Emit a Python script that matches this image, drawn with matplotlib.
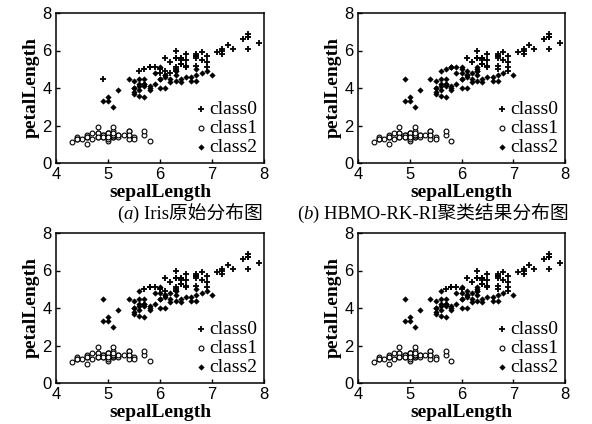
import matplotlib
matplotlib.use('Agg')
import matplotlib.pyplot as plt

# iris: sepal length / petal length, rows 0-49 setosa, 50-99 versicolor, 100-149 virginica
sepal_length = [
    5.1, 4.9, 4.7, 4.6, 5.0, 5.4, 4.6, 5.0, 4.4, 4.9, 5.4, 4.8, 4.8, 4.3, 5.8, 5.7, 5.4, 5.1, 5.7, 5.1,
    5.4, 5.1, 4.6, 5.1, 4.8, 5.0, 5.0, 5.2, 5.2, 4.7, 4.8, 5.4, 5.2, 5.5, 4.9, 5.0, 5.5, 4.9, 4.4, 5.1,
    5.0, 4.5, 4.4, 5.0, 5.1, 4.8, 5.1, 4.6, 5.3, 5.0,
    7.0, 6.4, 6.9, 5.5, 6.5, 5.7, 6.3, 4.9, 6.6, 5.2, 5.0, 5.9, 6.0, 6.1, 5.6, 6.7, 5.6, 5.8, 6.2, 5.6,
    5.9, 6.1, 6.3, 6.1, 6.4, 6.6, 6.8, 6.7, 6.0, 5.7, 5.5, 5.5, 5.8, 6.0, 5.4, 6.0, 6.7, 6.3, 5.6, 5.5,
    5.5, 6.1, 5.8, 5.0, 5.6, 5.7, 5.7, 6.2, 5.1, 5.7,
    6.3, 5.8, 7.1, 6.3, 6.5, 7.6, 4.9, 7.3, 6.7, 7.2, 6.5, 6.4, 6.8, 5.7, 5.8, 6.4, 6.5, 7.7, 7.7, 6.0,
    6.9, 5.6, 7.7, 6.3, 6.7, 7.2, 6.2, 6.1, 6.4, 7.2, 7.4, 7.9, 6.4, 6.3, 6.1, 7.7, 6.3, 6.4, 6.0, 6.9,
    6.7, 6.9, 5.8, 6.8, 6.7, 6.7, 6.3, 6.5, 6.2, 5.9,
]
petal_length = [
    1.4, 1.4, 1.3, 1.5, 1.4, 1.7, 1.4, 1.5, 1.4, 1.5, 1.5, 1.6, 1.4, 1.1, 1.2, 1.5, 1.3, 1.4, 1.7, 1.5,
    1.7, 1.5, 1.0, 1.7, 1.9, 1.6, 1.6, 1.5, 1.4, 1.6, 1.6, 1.5, 1.5, 1.4, 1.5, 1.2, 1.3, 1.4, 1.3, 1.5,
    1.3, 1.3, 1.3, 1.6, 1.9, 1.4, 1.6, 1.4, 1.5, 1.4,
    4.7, 4.5, 4.9, 4.0, 4.6, 4.5, 4.7, 3.3, 4.6, 3.9, 3.5, 4.2, 4.0, 4.7, 3.6, 4.4, 4.5, 4.1, 4.5, 3.9,
    4.8, 4.0, 4.9, 4.7, 4.3, 4.4, 4.8, 5.0, 4.5, 3.5, 3.8, 3.7, 3.9, 5.1, 4.5, 4.5, 4.7, 4.4, 4.1, 4.0,
    4.4, 4.6, 4.0, 3.3, 4.2, 4.2, 4.2, 4.3, 3.0, 4.1,
    6.0, 5.1, 5.9, 5.6, 5.8, 6.6, 4.5, 6.3, 5.8, 6.1, 5.1, 5.3, 5.5, 5.0, 5.1, 5.3, 5.5, 6.7, 6.9, 5.0,
    5.7, 4.9, 6.7, 4.9, 5.7, 6.0, 4.8, 4.9, 5.6, 5.8, 6.1, 6.4, 5.6, 5.1, 5.6, 6.1, 5.6, 5.5, 4.8, 5.4,
    5.6, 5.1, 5.1, 5.9, 5.7, 5.2, 5.0, 5.2, 5.4, 5.1,
]
true_class = [1] * 50 + [2] * 50 + [0] * 50

# sample index -> class, for points that each panel puts in another class
moved_a = {}
moved_b = {52: 0, 77: 0, 101: 2, 106: 2, 113: 2, 114: 2, 119: 2, 121: 2, 123: 2,
           126: 2, 127: 2, 133: 2, 138: 2, 142: 2, 146: 2, 149: 2}
moved_c = {106: 2, 121: 2, 126: 2, 138: 2}
moved_d = {52: 0, 77: 0, 106: 2, 121: 2, 123: 2, 126: 2, 127: 2, 133: 2, 138: 2, 146: 2}

class_names = ['class0', 'class1', 'class2']
x_ticks = [4, 5, 6, 7, 8]
y_ticks = [0, 2, 4, 6, 8]

serif = 'Liberation Serif'
sans = 'Liberation Sans'

fig = plt.figure(figsize=(5.92, 4.24), dpi=100)
W, H = 592, 424
boxes = [(56, 13, 264, 163), (358, 13, 565, 163), (56, 233, 264, 383), (358, 233, 565, 383)]
moves = [moved_a, moved_b, moved_c, moved_d]

marker_kw = [
    dict(marker='+', s=15, c='black', linewidths=1.3),
    dict(marker='o', s=12, facecolors='white', edgecolors='black', linewidths=0.8),
    dict(marker='D', s=8, c='black', linewidths=0.3),
]

axes = []
for (x0, y0, x1, y1), moved in zip(boxes, moves):
    ax = fig.add_axes([x0 / W, 1 - y1 / H, (x1 - x0) / W, (y1 - y0) / H])
    labels = [moved.get(i, c) for i, c in enumerate(true_class)]
    for k in range(3):
        xs = [sepal_length[i] for i in range(150) if labels[i] == k]
        ys = [petal_length[i] for i in range(150) if labels[i] == k]
        ax.scatter(xs, ys, label=class_names[k], zorder=3, **marker_kw[k])
    ax.set_xlim(4, 8)
    ax.set_ylim(0, 8)
    ax.set_xticks(x_ticks)
    ax.set_yticks(y_ticks)
    ax.tick_params(direction='in', length=3, width=1, labelsize=12, pad=3)
    for lab in ax.get_xticklabels() + ax.get_yticklabels():
        lab.set_fontfamily(sans)
    for sp in ax.spines.values():
        sp.set_linewidth(1.1)
    ax.set_xlabel('sepalLength', fontfamily=serif, fontweight='bold', fontsize=14, labelpad=1)
    ax.set_ylabel('petalLength', fontfamily=serif, fontweight='bold', fontsize=14, labelpad=2)
    ax.legend(loc='lower right', frameon=False, prop={'family': serif, 'size': 14},
              handletextpad=0.0, handlelength=0.8, labelspacing=0.08,
              borderaxespad=0.1, borderpad=0.25)
    axes.append(ax)


def caption(ax, x, y, letter, rest):
    kw = dict(fontsize=13.5, xycoords='figure fraction', annotation_clip=False)
    t = ax.annotate('(', xy=(x, y), va='baseline', family=serif, **kw)
    kw['xycoords'] = t
    t = ax.annotate(letter, xy=(1, 0), va='bottom', family=serif, style='italic', **kw)
    kw['xycoords'] = t
    ax.annotate(rest, xy=(1, 0), va='bottom', family=[serif, 'Noto Sans CJK SC'], **kw)


caption(axes[0], 117 / W, 1 - 219 / H, 'a', ') Iris原始分布图')
caption(axes[1], 297 / W, 1 - 219 / H, 'b', ') HBMO-RK-RI聚类结果分布图')

fig.savefig('out.png', dpi=100)
